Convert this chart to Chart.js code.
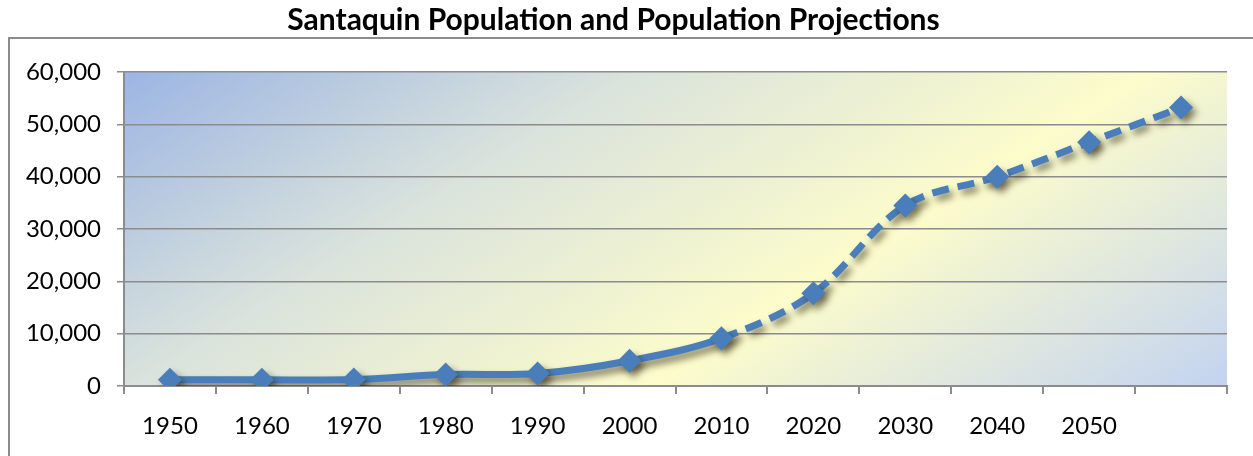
<!DOCTYPE html>
<html>
<head>
<meta charset="utf-8">
<script src="https://cdn.jsdelivr.net/npm/chart.js@4/dist/chart.umd.min.js"></script>
<style>
    html, body { margin: 0; padding: 0; background: #fff; }
    #wrap { width: 1253px; height: 456px; position: relative; }
</style>
</head>
<body>
<div id="wrap"><canvas id="popChart" width="1253" height="456"></canvas></div>
<script>
// chart data
const years = ['1950', '1960', '1970', '1980', '1990', '2000', '2010', '2020', '2030', '2040', '2050', ''];
const population = [1214, 1183, 1236, 2175, 2386, 4834, 9128, 17700, 34500, 40000, 46600, 53200];
const yMin = 0;
const yMax = 60000;
const yStep = 10000;
const projectionFrom = 6; // census ends at 2010, dashed after

const lineBlue = '#4A7EBB';

// outer frame + plot gradient
const backdrop = {
    id: 'backdrop',
    beforeDraw(chart) {
        const ctx = chart.ctx;
        const a = chart.chartArea;
        ctx.save();
        ctx.strokeStyle = '#8c8c8c';
        ctx.lineWidth = 2;
        ctx.beginPath();
        ctx.moveTo(9, 456);
        ctx.lineTo(9, 38);
        ctx.lineTo(1253, 38);
        ctx.stroke();

        const w = a.right - a.left, h = a.bottom - a.top;
        const g = ctx.createLinearGradient(a.left, a.top, a.left + 0.411 * w, a.top + 2.3 * h);
        g.addColorStop(0, '#9CB5E3');
        g.addColorStop(0.32, '#DAE3DC');
        g.addColorStop(0.64, '#FCFCCB');
        g.addColorStop(1, '#C3D3F1');
        ctx.fillStyle = g;
        ctx.fillRect(a.left, a.top, w, h);
        ctx.restore();
    }
};

const lineShadow = {
    id: 'lineShadow',
    beforeDatasetsDraw(chart) {
        const ctx = chart.ctx;
        ctx.save();
        ctx.shadowColor = 'rgba(40, 30, 10, 0.55)';
        ctx.shadowBlur = 7;
        ctx.shadowOffsetX = 4;
        ctx.shadowOffsetY = 5;
    },
    afterDatasetsDraw(chart) {
        chart.ctx.restore();
    }
};

new Chart(document.getElementById('popChart'), {
    type: 'line',
    data: {
        labels: years,
        datasets: [{
            label: 'Population',
            data: population,
            borderColor: lineBlue,
            backgroundColor: lineBlue,
            borderWidth: 7,
            tension: 0.35,
            pointStyle: 'rectRot',
            pointRadius: 12,
            pointBorderWidth: 0,
            pointBackgroundColor: lineBlue,
            segment: {
                borderDash: ctx => ctx.p0DataIndex >= projectionFrom ? [17, 9] : undefined
            }
        }]
    },
    options: {
        responsive: false,
        animation: false,
        layout: { padding: { left: 0, right: 26, top: 0, bottom: 0 } },
        scales: {
            x: {
                offset: true,
                border: { display: true, color: '#8c8c8c', width: 2 },
                grid: {
                    offset: true,
                    drawOnChartArea: false,
                    drawTicks: true,
                    tickLength: 8,
                    color: '#8c8c8c',
                    lineWidth: 2
                },
                ticks: {
                    color: '#000',
                    padding: 18,
                    maxRotation: 0,
                    autoSkip: false,
                    font: { family: 'Lato', size: 24 }
                },
                afterFit: s => { s.height = 70; }
            },
            y: {
                min: yMin,
                max: yMax,
                border: { display: true, color: '#8c8c8c', width: 2 },
                grid: {
                    color: '#8c8c8c',
                    lineWidth: 1.5,
                    tickLength: 7
                },
                ticks: {
                    stepSize: yStep,
                    color: '#000',
                    padding: 16,
                    font: { family: 'Lato', size: 24 },
                    callback: v => v.toLocaleString('en-US')
                },
                afterFit: s => { s.width = 124; }
            }
        },
        plugins: {
            legend: { display: false },
            tooltip: { enabled: false },
            title: {
                display: true,
                text: 'Santaquin Population and Population Projections',
                color: '#000',
                font: { family: 'Lato', size: 30, weight: 'bold', lineHeight: 1.2 },
                padding: { top: 2, bottom: 34 }
            }
        }
    },
    plugins: [backdrop, lineShadow]
});
</script>
</body>
</html>
